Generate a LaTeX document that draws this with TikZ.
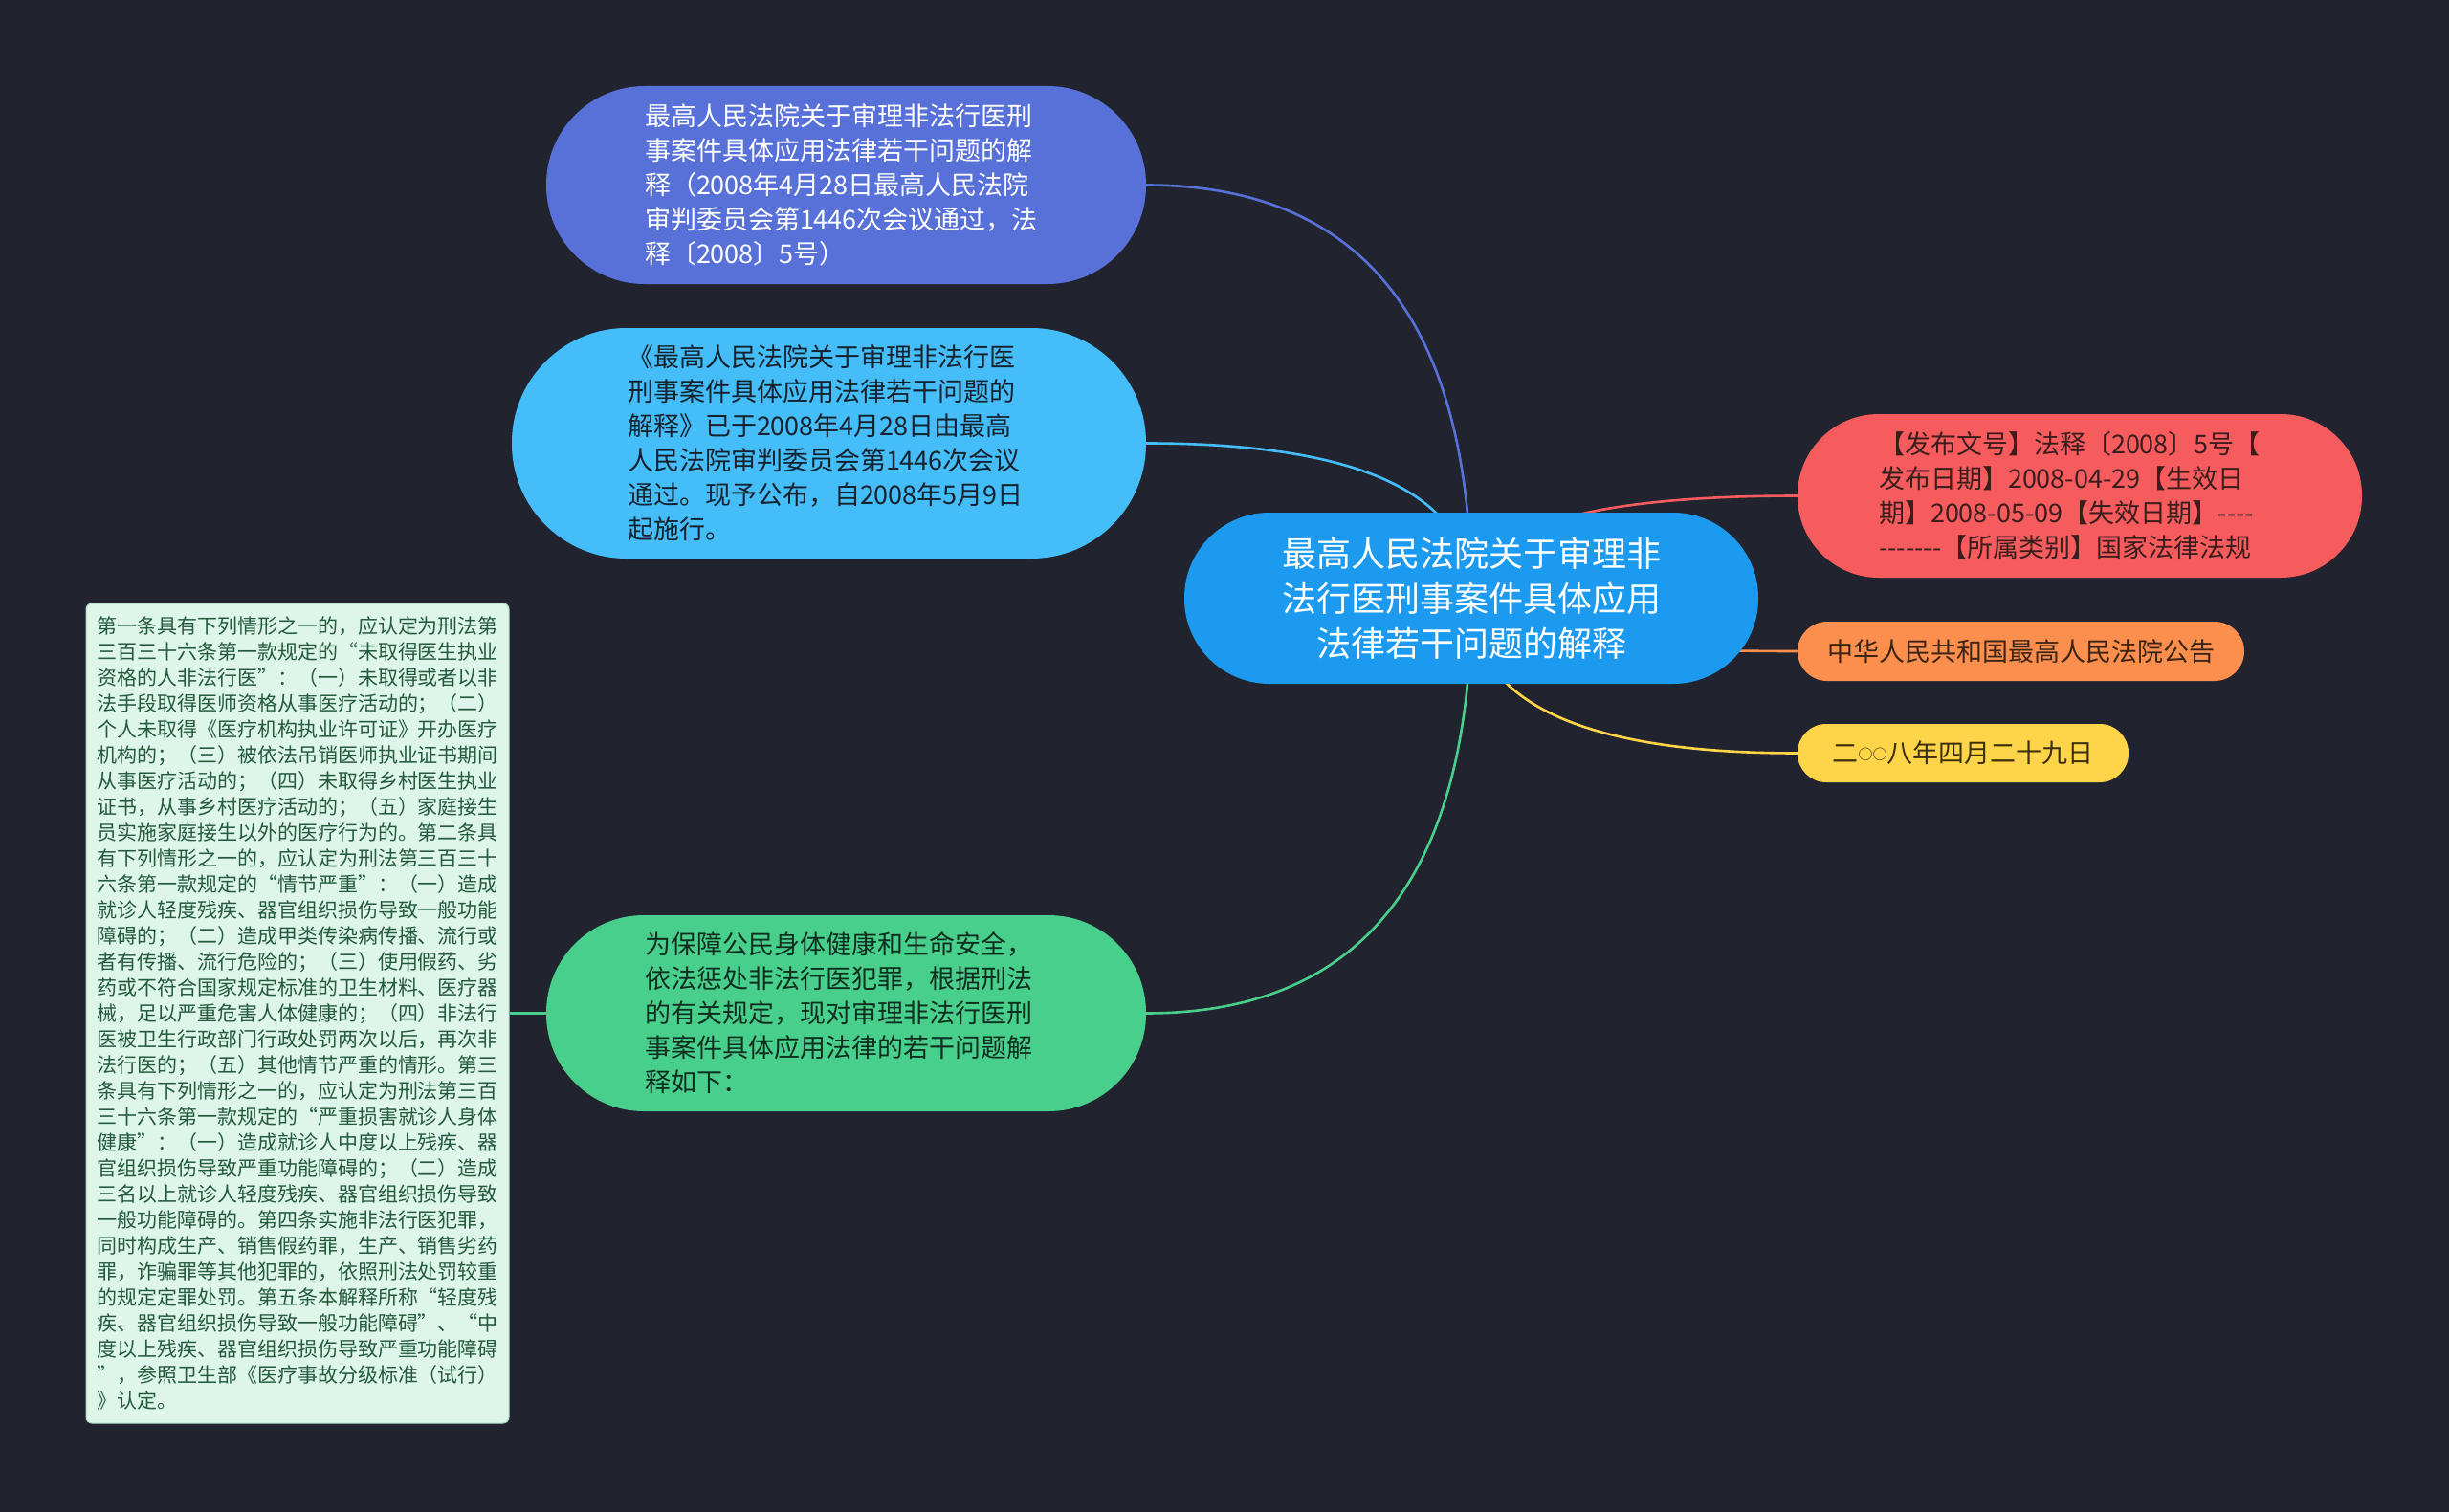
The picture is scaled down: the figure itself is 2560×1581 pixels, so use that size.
\documentclass[tikz,border=0pt]{standalone}
\usepackage{fontspec}
\setmainfont{Noto Sans CJK SC}
\usetikzlibrary{calc}
\definecolor{bgc}{HTML}{21242F}
\definecolor{rootc}{HTML}{1B9AF0}
\definecolor{cpurple}{HTML}{5871D8}
\definecolor{clblue}{HTML}{44BDF8}
\definecolor{cgreen}{HTML}{49CF8C}
\definecolor{cred}{HTML}{F65C5D}
\definecolor{corange}{HTML}{FC8F4E}
\definecolor{cyellow}{HTML}{FED548}
\definecolor{boxfill}{HTML}{DEF5E9}
\definecolor{boxline}{HTML}{A9DCC1}
\definecolor{boxtext}{HTML}{245A3E}
\definecolor{tdark}{HTML}{15222E}
\definecolor{tgreen}{HTML}{0E2E1F}
\definecolor{tred}{HTML}{3B1D1D}
\definecolor{torange}{HTML}{3C2414}
\definecolor{tyellow}{HTML}{3B2F0C}
\pgfdeclarelayer{bglayer}
\pgfdeclarelayer{edgelayer}
\pgfsetlayers{bglayer,edgelayer,main}
\begin{document}
\begin{tikzpicture}[x=1pt,y=-1pt,
  pillnode/.style={rectangle, inner sep=0pt, align=left},
  midfont/.style={font=\fontsize{27}{36}\selectfont},
  conn/.style={line width=2.6pt}]
\useasboundingbox (0,0) rectangle (2560,1581);
\begin{pgfonlayer}{bglayer}
\fill[bgc] (0,0) rectangle (2560,1581);
\end{pgfonlayer}

% root
\node[pillnode, align=center, fill=rootc, text=white, minimum width=600pt, minimum height=179pt, rounded corners=89pt,
  font=\fontsize{36}{47}\selectfont] (root) at (1538,625.5)
  {最高人民法院关于审理非\\法行医刑事案件具体应用\\法律若干问题的解释};

% left side
\node[pillnode, midfont, text width=421pt, fill=cpurple, text=white, minimum width=627pt, minimum height=207pt, rounded corners=103pt] (n1) at (884.5,193.5)
  {最高人民法院关于审理非法行医刑\\事案件具体应用法律若干问题的解\\释（2008年4月28日最高人民法院\\审判委员会第1446次会议通过，法\\释〔2008〕5号）};

\node[pillnode, midfont, text width=421pt, fill=clblue, text=tdark, minimum width=663pt, minimum height=241pt, rounded corners=120pt] (n2) at (866.5,463.5)
  {《最高人民法院关于审理非法行医\\刑事案件具体应用法律若干问题的\\解释》已于2008年4月28日由最高\\人民法院审判委员会第1446次会议\\通过。现予公布，自2008年5月9日\\起施行。};

\node[pillnode, midfont, text width=421pt, fill=cgreen, text=tgreen, minimum width=627pt, minimum height=205pt, rounded corners=102pt] (ng) at (884.5,1059.5)
  {为保障公民身体健康和生命安全，\\依法惩处非法行医犯罪，根据刑法\\的有关规定，现对审理非法行医刑\\事案件具体应用法律的若干问题解\\释如下：};

\node[pillnode, fill=boxfill, draw=boxline, line width=1pt, text=boxtext, minimum width=442pt, minimum height=857pt, rounded corners=6pt,
  font=\fontsize{21}{27.03}\selectfont] (box) at (311,1059.5)
  {第一条具有下列情形之一的，应认定为刑法第\\
三百三十六条第一款规定的“未取得医生执业\\
资格的人非法行医”：（一）未取得或者以非\\
法手段取得医师资格从事医疗活动的；（二）\\
个人未取得《医疗机构执业许可证》开办医疗\\
机构的；（三）被依法吊销医师执业证书期间\\
从事医疗活动的；（四）未取得乡村医生执业\\
证书，从事乡村医疗活动的；（五）家庭接生\\
员实施家庭接生以外的医疗行为的。第二条具\\
有下列情形之一的，应认定为刑法第三百三十\\
六条第一款规定的“情节严重”：（一）造成\\
就诊人轻度残疾、器官组织损伤导致一般功能\\
障碍的；（二）造成甲类传染病传播、流行或\\
者有传播、流行危险的；（三）使用假药、劣\\
药或不符合国家规定标准的卫生材料、医疗器\\
械，足以严重危害人体健康的；（四）非法行\\
医被卫生行政部门行政处罚两次以后，再次非\\
法行医的；（五）其他情节严重的情形。第三\\
条具有下列情形之一的，应认定为刑法第三百\\
三十六条第一款规定的“严重损害就诊人身体\\
健康”：（一）造成就诊人中度以上残疾、器\\
官组织损伤导致严重功能障碍的；（二）造成\\
三名以上就诊人轻度残疾、器官组织损伤导致\\
一般功能障碍的。第四条实施非法行医犯罪，\\
同时构成生产、销售假药罪，生产、销售劣药\\
罪，诈骗罪等其他犯罪的，依照刑法处罚较重\\
的规定定罪处罚。第五条本解释所称“轻度残\\
疾、器官组织损伤导致一般功能障碍”、“中\\
度以上残疾、器官组织损伤导致严重功能障碍\\
”，参照卫生部《医疗事故分级标准（试行）\\
》认定。};

% right side
\node[pillnode, midfont, text width=420pt, fill=cred, text=tred, minimum width=590pt, minimum height=171pt, rounded corners=85pt] (nr) at (2174,518.5)
  {【发布文号】法释〔2008〕5号【\\发布日期】2008-04-29【生效日\\期】2008-05-09【失效日期】-{}-{}-{}-\\-{}-{}-{}-{}-{}-{}-【所属类别】国家法律法规};

\node[pillnode, midfont, fill=corange, text=torange, minimum width=467pt, minimum height=62pt, rounded corners=31pt] (no) at (2112.5,681)
  {中华人民共和国最高人民法院公告};

\node[pillnode, midfont, fill=cyellow, text=tyellow, minimum width=346pt, minimum height=61pt, rounded corners=30pt] (ny) at (2052,787.5)
  {二\raisebox{3pt}{\fontsize{15}{15}\selectfont ○○}八年四月二十九日};

% connectors
\begin{pgfonlayer}{edgelayer}
\draw[conn, cpurple] (n1.east) .. controls ($(n1.east)!0.6667!(n1.east -| root.center)$) and ($(root.center)!0.6667!(n1.east -| root.center)$) .. (root.center);
\draw[conn, clblue] (n2.east) .. controls ($(n2.east)!0.6667!(n2.east -| root.center)$) and ($(root.center)!0.6667!(n2.east -| root.center)$) .. (root.center);
\draw[conn, cgreen] (ng.east) .. controls ($(ng.east)!0.6667!(ng.east -| root.center)$) and ($(root.center)!0.6667!(ng.east -| root.center)$) .. (root.center);
\draw[conn, cred] (nr.west) .. controls ($(nr.west)!0.6667!(nr.west -| root.center)$) and ($(root.center)!0.6667!(nr.west -| root.center)$) .. (root.center);
\draw[conn, corange] (no.west) .. controls ($(no.west)!0.6667!(no.west -| root.center)$) and ($(root.center)!0.6667!(no.west -| root.center)$) .. (root.center);
\draw[conn, cyellow] (ny.west) .. controls ($(ny.west)!0.6667!(ny.west -| root.center)$) and ($(root.center)!0.6667!(ny.west -| root.center)$) .. (root.center);
\draw[conn, cgreen] (ng.west) -- (box.east);
\end{pgfonlayer}
\end{tikzpicture}
\end{document}
